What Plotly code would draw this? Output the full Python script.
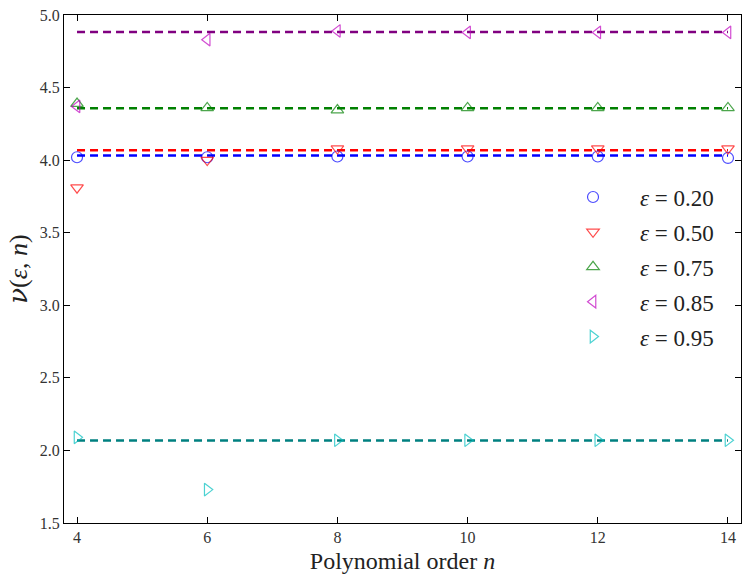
import plotly.graph_objects as go

# polynomial order n
orders = [4, 6, 8, 10, 12, 14]

# nu(eps, n), one list per epsilon
eps_labels = ["0.20", "0.50", "0.75", "0.85", "0.95"]
nu_020 = [4.02, 4.02, 4.025, 4.025, 4.025, 4.015]
nu_050 = [3.81, 4.00, 4.08, 4.08, 4.08, 4.08]
nu_075 = [4.39, 4.36, 4.345, 4.36, 4.36, 4.36]
nu_085 = [4.37, 4.83, 4.89, 4.88, 4.88, 4.88]
nu_095 = [2.09, 1.73, 2.07, 2.07, 2.07, 2.07]

# fitted constant levels (dashed lines)
nu_fit = [4.032, 4.069, 4.357, 4.883, 2.069]

series = [nu_020, nu_050, nu_075, nu_085, nu_095]
line_colors = ["#0000ff", "#ff0000", "#008000", "#800080", "#008080"]
marker_colors = ["rgba(0,0,255,0.7)", "rgba(255,0,0,0.7)", "rgba(0,128,0,0.7)",
                 "rgba(191,0,191,0.7)", "rgba(0,191,191,0.7)"]
symbols = ["circle-open", "triangle-down-open", "triangle-up-open",
           "triangle-left-open", "triangle-right-open"]

FONT = "Liberation Serif"

fig = go.Figure()

# dashed fit lines first, so markers sit on top
for i, level in enumerate(nu_fit):
    fig.add_trace(go.Scatter(
        x=[orders[0], orders[-1]], y=[level, level],
        mode="lines", showlegend=False, hoverinfo="skip",
        line=dict(color=line_colors[i], width=2.5, dash="8px,5px"),
    ))

for i, vals in enumerate(series):
    fig.add_trace(go.Scatter(
        x=orders, y=vals, mode="markers",
        name=f"<i>ε</i> = {eps_labels[i]}",
        legendgroup=f"g{i}",
        marker=dict(symbol=symbols[i], size=11, color=marker_colors[i],
                    line=dict(width=1.2, color=marker_colors[i])),
    ))

axis_common = dict(
    showline=True, linecolor="black", linewidth=1.2, mirror="ticks",
    ticks="inside", ticklen=6, tickcolor="black",
    showgrid=False, zeroline=False,
    tickfont=dict(family=FONT, size=16, color="#333"),
)

nu_txt = "<span style='font-family:DejaVu Serif'><i>ν</i></span>(<i>ε</i>, <i>n</i>)"

fig.update_layout(
    width=748, height=581,
    margin=dict(l=64, r=7, t=15, b=58, autoexpand=False),
    plot_bgcolor="white", paper_bgcolor="white",
    font=dict(family=FONT, color="#222"),
    xaxis=dict(range=[3.8, 14.2], tickvals=orders,
               title=dict(text="Polynomial order <i>n</i>", font=dict(size=24), standoff=6),
               **axis_common),
    yaxis=dict(range=[1.5, 5.0], dtick=0.5, tickformat=".1f",
               title=dict(text=nu_txt, font=dict(size=26), standoff=4),
               **axis_common),
    legend=dict(x=0.712, y=0.684, xanchor="left", yanchor="top",
                bgcolor="rgba(0,0,0,0)", borderwidth=0,
                font=dict(family=FONT, size=23), itemwidth=84,
                tracegroupgap=2),
)

fig.write_html("out.html", config={"displayModeBar": False},
               post_script="document.body.style.margin='0';")
